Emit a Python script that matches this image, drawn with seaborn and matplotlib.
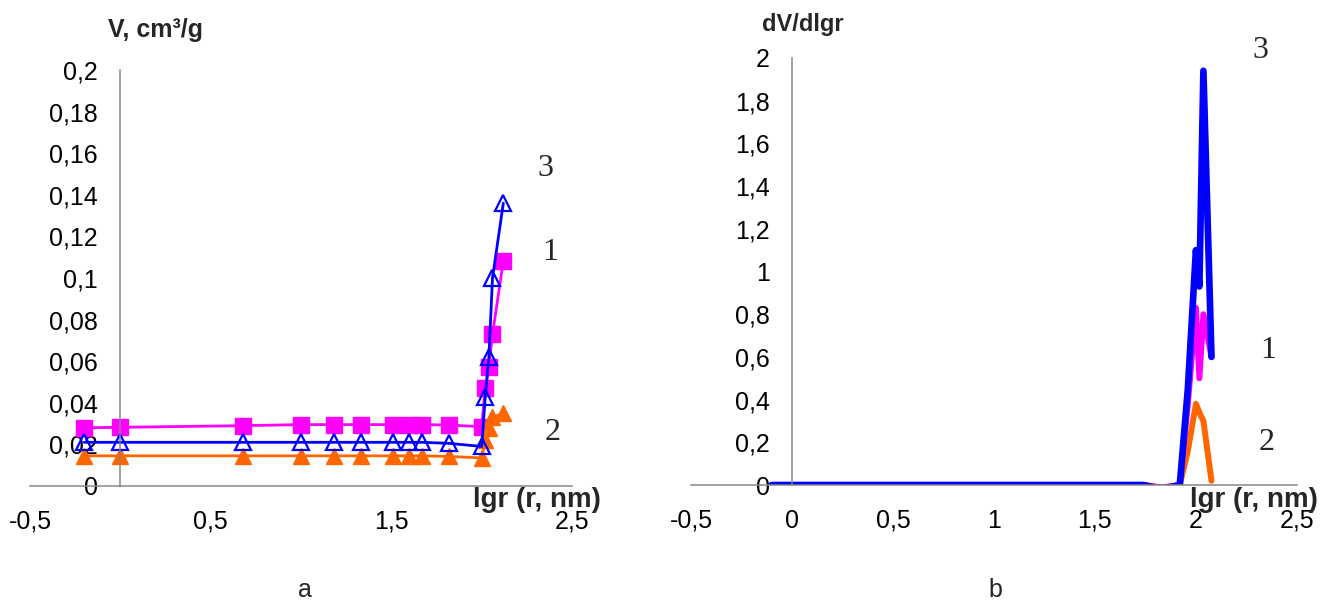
import pandas as pd
import seaborn as sns
import matplotlib.pyplot as plt
from matplotlib.ticker import FuncFormatter, FixedLocator

# panel a: pore volume V vs lg r
lgr_a = [-0.2, 0.0, 0.68, 1.0, 1.18, 1.33, 1.51, 1.6, 1.67, 1.82, 2.0, 2.02, 2.04, 2.06, 2.12]
v_1 = [0.028, 0.0282, 0.029, 0.0295, 0.0295, 0.0295, 0.0295, 0.0295, 0.0295, 0.0293, 0.0285,
       0.047, 0.057, 0.073, 0.108]
v_2 = [0.0145, 0.0145, 0.0145, 0.0145, 0.0145, 0.0145, 0.0145, 0.0145, 0.0145, 0.0142, 0.0135,
       0.022, 0.028, 0.033, 0.035]
v_3 = [0.021, 0.021, 0.021, 0.021, 0.021, 0.021, 0.021, 0.021, 0.021, 0.0205, 0.019,
       0.043, 0.062, 0.100, 0.136]

# panel b: dV/dlgr vs lg r
lgr_b = [-0.1, 0.34, 0.84, 1.09, 1.25, 1.42, 1.55, 1.63, 1.74, 1.83, 1.92, 1.96, 2.0, 2.017, 2.037, 2.077]
d_1 = [0, 0, 0, 0, 0, 0, 0, 0, 0, -0.012, 0, 0.38, 0.83, 0.50, 0.80, 0.60]
d_2 = [0, 0, 0, 0, 0, 0, 0, 0, 0, -0.012, 0, 0.16, 0.38, 0.34, 0.30, 0.02]
d_3 = [0, 0, 0, 0, 0, 0, 0, 0, 0, -0.02, 0, 0.45, 1.10, 0.93, 1.94, 0.60]

pink = '#FF00FF'
orange = '#FF6600'
blue = '#0000FF'

sns.set_style('white')
plt.rcParams['font.family'] = ['Liberation Sans', 'DejaVu Sans']

df_a = pd.DataFrame({'lgr': lgr_a, 'v1': v_1, 'v2': v_2, 'v3': v_3})
df_b = pd.DataFrame({'lgr': lgr_b, 'd1': d_1, 'd2': d_2, 'd3': d_3})

fig = plt.figure(figsize=(13.38, 6.04), dpi=100)
ax_a = fig.add_axes([0.0224, 0.1954, 0.4051, 0.6887])
ax_b = fig.add_axes([0.5164, 0.1970, 0.4529, 0.7070])

comma = FuncFormatter(lambda v, p: f'{round(v, 4):g}'.replace('.', ','))

# --- a ---
sns.lineplot(data=df_a, x='lgr', y='v1', ax=ax_a, color=pink, lw=2, marker='s', ms=11,
             markeredgecolor=pink, markeredgewidth=1)
sns.lineplot(data=df_a, x='lgr', y='v2', ax=ax_a, color=orange, lw=2, marker='^', ms=12,
             markeredgecolor=orange, markeredgewidth=1)
sns.lineplot(data=df_a, x='lgr', y='v3', ax=ax_a, color=blue, lw=2, marker='^', ms=12,
             markerfacecolor='none', markeredgecolor=blue, markeredgewidth=1.6)
ax_a.set_xlim(-0.5, 2.5)
ax_a.set_ylim(0, 0.2)
ax_a.xaxis.set_major_locator(FixedLocator([-0.5, 0.5, 1.5, 2.5]))
ax_a.yaxis.set_major_locator(FixedLocator([0, 0.02, 0.04, 0.06, 0.08, 0.1, 0.12, 0.14, 0.16, 0.18, 0.2]))

# --- b ---
sns.lineplot(data=df_b, x='lgr', y='d2', ax=ax_b, color=orange, lw=4.3)
sns.lineplot(data=df_b, x='lgr', y='d1', ax=ax_b, color=pink, lw=4.3)
sns.lineplot(data=df_b, x='lgr', y='d3', ax=ax_b, color=blue, lw=4.8)
ax_b.set_xlim(-0.5, 2.5)
ax_b.set_ylim(0, 2)
ax_b.xaxis.set_major_locator(FixedLocator([-0.5, 0, 0.5, 1, 1.5, 2, 2.5]))
ax_b.yaxis.set_major_locator(FixedLocator([0, 0.2, 0.4, 0.6, 0.8, 1, 1.2, 1.4, 1.6, 1.8, 2]))

for ax in (ax_a, ax_b):
    ax.set_xlabel('')
    ax.set_ylabel('')
    ax.spines['top'].set_visible(False)
    ax.spines['right'].set_visible(False)
    ax.spines['left'].set_position(('data', 0))
    for s in ('left', 'bottom'):
        ax.spines[s].set_color('#868686')
        ax.spines[s].set_linewidth(1.1)
    ax.xaxis.set_major_formatter(comma)
    ax.yaxis.set_major_formatter(comma)
    ax.tick_params(axis='both', direction='out', length=5, width=1.1, color='#868686',
                   labelsize=18, labelcolor='black', pad=11)
    ax.tick_params(axis='x', pad=12)
    ax.set_facecolor('none')

# axis titles
fig.text(108 / 1338, 1 - 30 / 604, 'V, cm\u00b3/g', fontsize=18, fontweight='bold', ha='left', va='center')
fig.text(762 / 1338, 1 - 24 / 604, 'dV/dlgr', fontsize=17, fontweight='bold', ha='left', va='center')
fig.text(537 / 1338, 1 - 500 / 604, 'lgr (r, nm)', fontsize=20, fontweight='bold', ha='center', va='center')
fig.text(1254 / 1338, 1 - 500 / 604, 'lgr (r, nm)', fontsize=20, fontweight='bold', ha='center', va='center')

# curve numbers
serif = ['Liberation Serif', 'DejaVu Serif']
for x, y, t in [(545, 168, '3'), (550, 253, '1'), (553, 432, '2'),
                (1260, 50, '3'), (1268, 350, '1'), (1267, 443, '2')]:
    fig.text(x / 1338, 1 - y / 604, t, fontsize=23, family=serif, ha='center', va='center')

# panel letters
fig.text(305 / 1338, 1 - 590 / 604, 'a', fontsize=18, ha='center', va='center')
fig.text(995 / 1338, 1 - 590 / 604, 'b', fontsize=18, ha='center', va='center')

fig.savefig('out.png', dpi=100)
